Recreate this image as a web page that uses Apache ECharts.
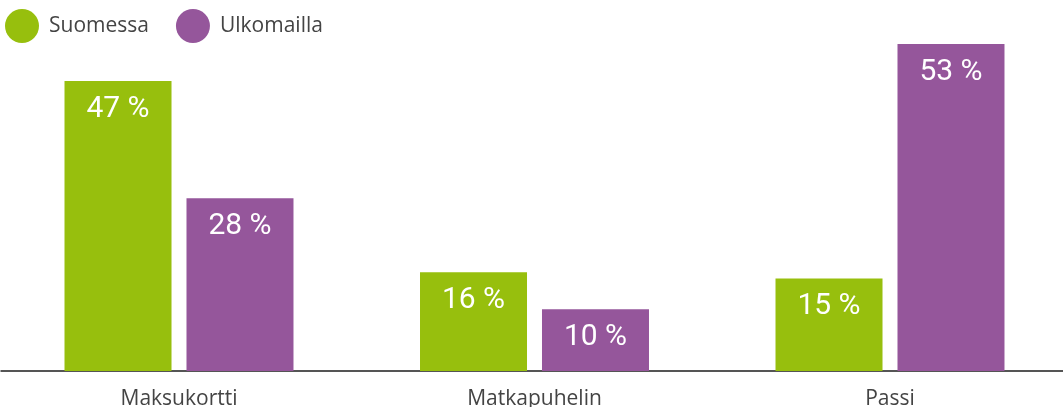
<!DOCTYPE html>
<html><head><meta charset="utf-8">
<script src="https://cdn.jsdelivr.net/npm/echarts@6/dist/echarts.min.js"></script>
<style>html,body{margin:0;padding:0;background:#fff}#c{width:1063px;height:407px}</style>
</head><body><div id="c"></div>
<script>
const categories = ['Maksukortti', 'Matkapuhelin', 'Passi'];
const seriesNames = ['Suomessa', 'Ulkomailla'];
const suomessa = [47, 16, 15];
const ulkomailla = [28, 10, 53];
const colors = ['#97bf0d', '#95569b'];

const chart = echarts.init(document.getElementById('c'), null, {renderer: 'canvas'});
const labelCfg = {
  show: true, position: 'insideTop', distance: 13,
  color: '#fff', fontSize: 30, fontFamily: 'Roboto',
  formatter: p => p.value + ' %'
};
chart.setOption({
  animation: false,
  textStyle: {fontFamily: 'Open Sans'},
  legend: {
    left: 0, top: 4, icon: 'circle', itemWidth: 34, itemHeight: 34, itemGap: 27,
    textStyle: {fontSize: 21, color: '#444', fontFamily: 'Open Sans', padding: [0, 0, 0, 5]},
    data: seriesNames
  },
  grid: {left: 1.25, width: 1066.5, top: 44, bottom: 36, outerBoundsMode: 'none'},
  xAxis: {
    type: 'category', data: categories,
    axisLine: {lineStyle: {color: '#555', width: 2}},
    axisTick: {show: false},
    axisLabel: {fontSize: 21, color: '#444', margin: 18, fontFamily: 'Open Sans'}
  },
  yAxis: {type: 'value', min: 0, max: 53, show: false, splitLine: {show: false}},
  series: [
    {name: seriesNames[0], type: 'bar', data: suomessa, barWidth: 107, barGap: '14%',
     itemStyle: {color: colors[0]}, label: labelCfg},
    {name: seriesNames[1], type: 'bar', data: ulkomailla, barWidth: 107, barGap: '14%',
     itemStyle: {color: colors[1]}, label: labelCfg}
  ]
});
</script></body></html>
